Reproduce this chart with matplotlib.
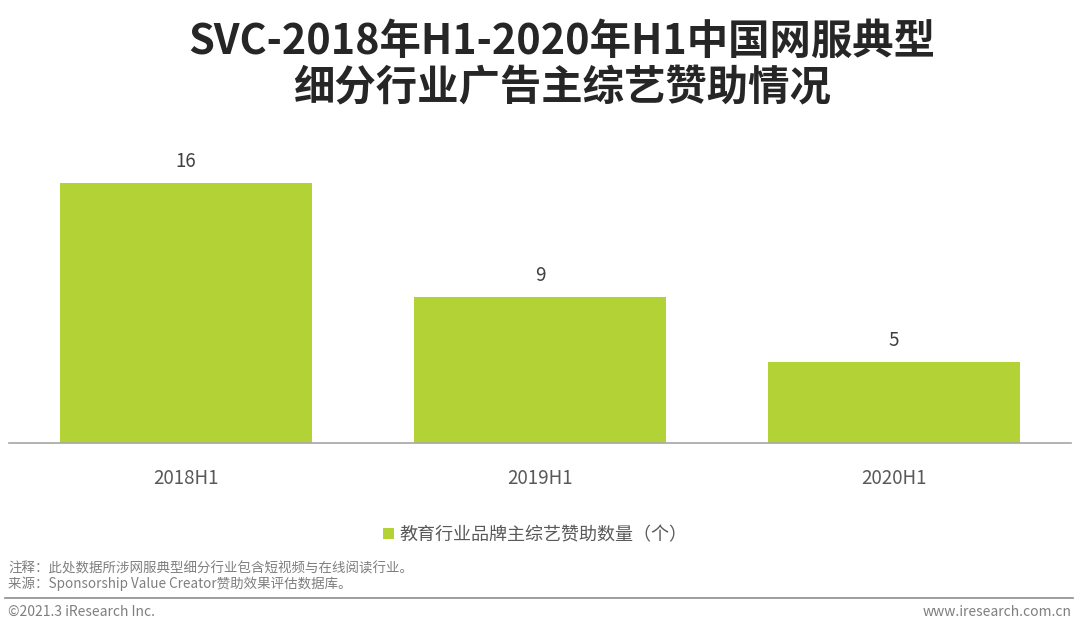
import matplotlib.pyplot as plt

plt.rcParams['font.family'] = ['Noto Sans CJK SC', 'DejaVu Sans']

# Data
periods = ['2018H1', '2019H1', '2020H1']
counts = [16, 9, 5]
series_name = '教育行业品牌主综艺赞助数量（个）'

title = 'SVC-2018年H1-2020年H1中国网服典型\n细分行业广告主综艺赞助情况'
note = '注释：此处数据所涉网服典型细分行业包含短视频与在线阅读行业。'
source = '来源：Sponsorship Value Creator赞助效果评估数据库。'

bar_color = '#B2D235'

fig = plt.figure(figsize=(10.8, 6.33), dpi=100)
ax = fig.add_axes([9 / 1080, 190 / 633, 1062 / 1080, 293 / 633])

x = range(len(periods))
bars = ax.bar(x, counts, width=0.71, color=bar_color, label=series_name)
for b, v in zip(bars, counts):
    ax.text(b.get_x() + b.get_width() / 2, v + 0.65, str(v),
            ha='center', va='bottom', fontsize=13.5, color='#404040')

ax.set_xlim(-0.5, 2.5)
ax.set_ylim(0, 18)
ax.set_xticks(list(x))
ax.set_xticklabels(periods, fontsize=13.5, color='#595959')
ax.tick_params(axis='x', length=0, pad=18)
ax.set_yticks([])
for s in ['top', 'right', 'left']:
    ax.spines[s].set_visible(False)
ax.spines['bottom'].set_color('#A6A6A6')
ax.spines['bottom'].set_linewidth(1.2)

# Legend
fig.legend(handles=[bars], labels=[series_name], loc='center',
           bbox_to_anchor=(535 / 1080, 1 - 535 / 633), frameon=False,
           fontsize=13, handlelength=0.6, handleheight=0.6, handletextpad=0.3,
           labelcolor='#595959')

# Title
fig.text(562 / 1080, 1 - 65 / 633, title, ha='center', va='center',
         fontsize=29.8, fontweight='bold', color='#262626', linespacing=1.15)

# Notes
fig.text(8 / 1080, 1 - 568 / 633, note, ha='left', va='center', fontsize=9.7, color='#7F7F7F')
fig.text(8 / 1080, 1 - 584 / 633, source, ha='left', va='center', fontsize=9.7, color='#7F7F7F')

# Footer line and texts
fig.add_artist(plt.Line2D([5 / 1080, 1073 / 1080], [1 - 598 / 633, 1 - 598 / 633],
                          transform=fig.transFigure, color='#8C8C8C', linewidth=1.2))
fig.text(8 / 1080, 1 - 612 / 633, '©2021.3 iResearch Inc.', ha='left', va='center',
         fontsize=10, color='#7F7F7F')
fig.text(1072 / 1080, 1 - 612 / 633, 'www.iresearch.com.cn', ha='right', va='center',
         fontsize=10, color='#7F7F7F')

fig.savefig('out.png', dpi=100)
